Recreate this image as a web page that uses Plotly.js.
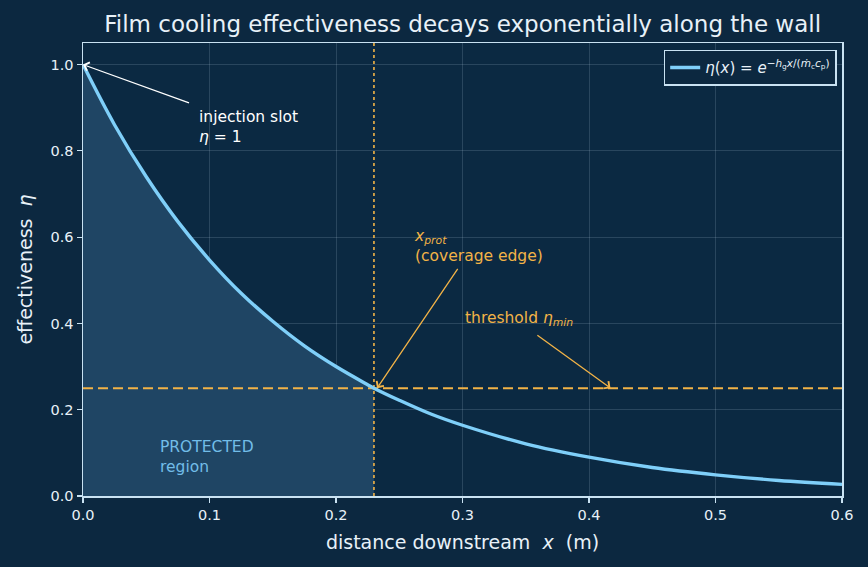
<!DOCTYPE html>
<html>
<head>
<meta charset="utf-8">
<script src="https://cdn.plot.ly/plotly-3.0.1.min.js"></script>
<style>
  html, body { margin: 0; padding: 0; background: #0c2840; }
  #chart { width: 868px; height: 567px; }
</style>
</head>
<body>
<div id="chart"></div>
<script>
// Film cooling effectiveness along the wall
const distance = [0, 0.025, 0.05, 0.075, 0.1, 0.125, 0.15, 0.175, 0.2, 0.225, 0.23, 0.25, 0.275, 0.3, 0.35, 0.4, 0.45, 0.5, 0.55, 0.6];
const effectiveness = [1.0, 0.86, 0.74, 0.636, 0.547, 0.47, 0.405, 0.348, 0.30, 0.258, 0.25, 0.222, 0.19, 0.164, 0.121, 0.09, 0.066, 0.049, 0.036, 0.027];

// protection limit and threshold
const xProt = 0.23;
const etaMin = 0.25;

const xTicks = [0, 0.1, 0.2, 0.3, 0.4, 0.5, 0.6];
const yTicks = [0, 0.2, 0.4, 0.6, 0.8, 1.0];

const orange = '#f2b347';
const curveBlue = '#7fcff9';
const textCol = '#e8f1f8';
const font = 'DejaVu Sans, sans-serif';

const protX = distance.filter(x => x <= xProt);
const protY = effectiveness.slice(0, protX.length);

const traces = [
  {
    x: protX, y: protY, type: 'scatter', mode: 'lines',
    line: { width: 0, shape: 'spline' }, fill: 'tozeroy',
    fillcolor: '#1f4564', hoverinfo: 'skip', showlegend: false
  },
  {
    x: [0, 0.6], y: [etaMin, etaMin], type: 'scatter', mode: 'lines',
    line: { color: orange, width: 2, dash: '10px,5px' }, showlegend: false
  },
  {
    x: [xProt, xProt], y: [0, 1.05], type: 'scatter', mode: 'lines',
    line: { color: orange, width: 1.6, dash: 'dot' }, showlegend: false
  },
  {
    x: distance, y: effectiveness, type: 'scatter', mode: 'lines',
    line: { color: curveBlue, width: 3.4, shape: 'spline' },
    name: '<i>η</i>(<i>x</i>) = <i>e</i><sup>−<i>h</i><sub>g</sub><i>x</i>/(<i>ṁ</i><sub>c</sub><i>c</i><sub>p</sub>)</sup>'
  }
];

const axisCommon = {
  showline: true, linecolor: '#c9e2f2', linewidth: 1.5, mirror: true,
  ticks: 'outside', ticklen: 5, tickwidth: 1.2, tickcolor: '#c9e2f2',
  gridcolor: 'rgba(200,225,245,0.16)', gridwidth: 1, zeroline: false,
  tickfont: { family: font, size: 14.5, color: textCol }
};

const layout = {
  width: 868, height: 567,
  paper_bgcolor: '#0c2840', plot_bgcolor: '#0b2942',
  margin: { l: 83, r: 26, t: 43, b: 71 },
  font: { family: font, color: textCol },
  title: {
    text: 'Film cooling effectiveness decays exponentially along the wall',
    font: { family: font, size: 23, color: textCol },
    x: 0.533, xanchor: 'center', y: 0.958, yanchor: 'middle'
  },
  xaxis: Object.assign({}, axisCommon, {
    range: [0, 0.6], tickvals: xTicks, tickformat: '.1f',
    title: { text: 'distance downstream  <i>x</i>  (m)', font: { family: font, size: 19, color: textCol }, standoff: 14 }
  }),
  yaxis: Object.assign({}, axisCommon, {
    range: [0, 1.05], tickvals: yTicks, tickformat: '.1f',
    title: { text: 'effectiveness  <i>η</i>', font: { family: font, size: 19, color: textCol }, standoff: 13 }
  }),
  legend: {
    x: 0.993, y: 0.985, xanchor: 'right', yanchor: 'top',
    bgcolor: '#0c2840', bordercolor: '#c9e2f2', borderwidth: 1.5,
    font: { family: font, size: 15, color: textCol }
  },
  showlegend: true,
  annotations: [
    {
      x: 0, y: 1.0, ax: 0.085, ay: 0.91, axref: 'x', ayref: 'y',
      text: '', showarrow: true, arrowhead: 4, arrowsize: 1.3, arrowwidth: 1.3, arrowcolor: '#ffffff'
    },
    {
      x: 0.09, y: 0.855, xanchor: 'left', yanchor: 'middle', align: 'left', showarrow: false,
      text: 'injection slot<br><i>η</i> = 1', font: { family: font, size: 15.5, color: '#ffffff' }
    },
    {
      x: 0.2325, y: etaMin, ax: 0.297, ay: 0.53, axref: 'x', ayref: 'y',
      text: '', showarrow: true, arrowhead: 4, arrowsize: 1.3, arrowwidth: 1.3, arrowcolor: orange
    },
    {
      x: 0.26, y: 0.58, xanchor: 'left', yanchor: 'middle', align: 'left', showarrow: false,
      text: '<i>x<sub>prot</sub></i><br>(coverage edge)', font: { family: font, size: 15.5, color: orange }
    },
    {
      x: 0.417, y: etaMin, ax: 0.358, ay: 0.375, axref: 'x', ayref: 'y',
      text: '', showarrow: true, arrowhead: 4, arrowsize: 1.3, arrowwidth: 1.3, arrowcolor: orange
    },
    {
      x: 0.3, y: 0.41, xanchor: 'left', yanchor: 'middle', align: 'left', showarrow: false,
      text: 'threshold <i>η<sub>min</sub></i>', font: { family: font, size: 15.5, color: orange }
    },
    {
      x: 0.059, y: 0.09, xanchor: 'left', yanchor: 'middle', align: 'left', showarrow: false,
      text: 'PROTECTED<br>region', font: { family: font, size: 15.5, color: '#72bde8' }
    }
  ]
};

Plotly.newPlot('chart', traces, layout, { displayModeBar: false, staticPlot: true });
</script>
</body>
</html>
